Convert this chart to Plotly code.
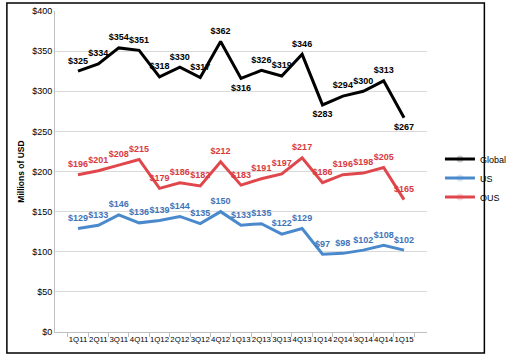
import plotly.graph_objects as go

quarters = ["1Q11","2Q11","3Q11","4Q11","1Q12","2Q12","3Q12","4Q12","1Q13","2Q13","3Q13","4Q13","1Q14","2Q14","3Q14","4Q14","1Q15"]
global_vals = [325,334,354,351,318,330,317,362,316,326,319,346,283,294,300,313,267]
us_vals = [129,133,146,136,139,144,135,150,133,135,122,129,97,98,102,108,102]
ous_vals = [196,201,208,215,179,186,182,212,183,191,197,217,186,196,198,205,165]
global_label_pos = ["top center"]*8 + ["bottom center","top center","top center","top center","bottom center","top center","top center","top center","bottom center"]

FONT = "Liberation Sans"
fig = go.Figure()

def add(name, vals, color, tcolor, pos):
    fig.add_trace(go.Scatter(
        x=quarters, y=vals, name=name, mode="lines+markers+text",
        line=dict(color=color, width=3),
        marker=dict(size=7, opacity=0, color=color),
        text=[f"${v}" for v in vals], textposition=pos,
        textfont=dict(family=FONT, size=9, color=tcolor, weight="bold"),
        cliponaxis=False,
    ))

add("Global", global_vals, "#000000", "#000000", global_label_pos)
add("US", us_vals, "#4a89cc", "#3f74b9", "top center")
add("OUS", ous_vals, "#e0474c", "#d83a3f", "top center")

L, R, T, B = 55, 66, 11, 25
W, H = 523, 357
pw, ph = W - L - R, H - T - B

fig.update_layout(
    width=W, height=H,
    margin=dict(l=L, r=R, t=T, b=B),
    paper_bgcolor="white", plot_bgcolor="white",
    font=dict(family=FONT, size=9, color="#222222"),
    showlegend=True,
    legend=dict(x=(471 - L) / pw, xanchor="left", y=(H - B - 178) / ph, yanchor="middle",
                font=dict(size=9, family=FONT, color="#000000"),
                itemwidth=30, tracegroupgap=0, bgcolor="rgba(0,0,0,0)"),
    xaxis=dict(type="category", showgrid=False, showline=True, linecolor="#bfbfbf", linewidth=1,
               ticks="outside", tickson="boundaries", ticklen=4, tickcolor="#bfbfbf",
               tickfont=dict(size=7.8, family=FONT, color="#000000"), tickangle=0, automargin=False),
    yaxis=dict(range=[0, 400], dtick=50, tickprefix="$", showgrid=True, gridcolor="#d9d9d9",
               gridwidth=1, showline=True, linecolor="#bfbfbf", linewidth=1, zeroline=False,
               tickfont=dict(size=9, family=FONT, color="#000000"), automargin=False,
               title=dict(text="<b>Millions of USD</b>", font=dict(size=8.5, family=FONT, color="#000000"), standoff=6)),
)

fig.add_shape(type="rect", xref="paper", yref="paper",
              x0=(3 - L) / pw, x1=(519 - L) / pw,
              y0=(H - B - 353) / ph, y1=(H - B - 3) / ph,
              line=dict(color="#000000", width=1.5), fillcolor="rgba(0,0,0,0)", layer="above")

fig.write_html("out.html", config={"displayModeBar": False},
               post_script="document.body.style.margin='0';document.body.style.overflow='hidden';")
